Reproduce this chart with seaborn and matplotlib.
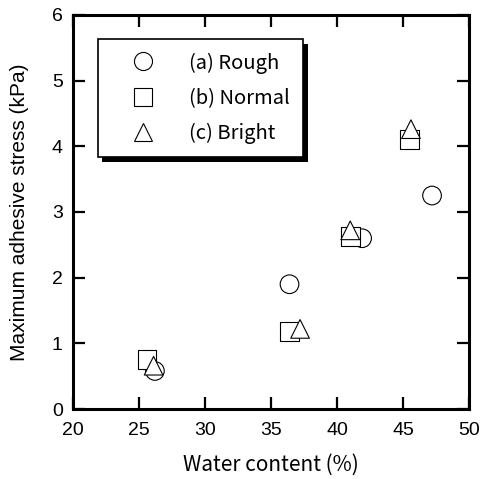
#Importaciones
import pandas as pd
import matplotlib
matplotlib.use("Agg")
import matplotlib.pyplot as plt
import matplotlib.patheffects as pe
import seaborn as sns

# data
surfaces = ["(a) Rough", "(b) Normal", "(c) Bright"]
rough_x = [26.2, 36.4, 41.9, 47.2]
rough_y = [0.58, 1.90, 2.60, 3.25]
normal_x = [25.6, 36.4, 41.0, 45.5]
normal_y = [0.75, 1.18, 2.63, 4.10]
bright_x = [26.1, 37.2, 41.0, 45.6]
bright_y = [0.66, 1.22, 2.72, 4.26]
marker_list = ["o", "s", "^"]

df = pd.DataFrame({
    "water": rough_x + normal_x + bright_x,
    "stress": rough_y + normal_y + bright_y,
    "surface": [surfaces[0]] * 4 + [surfaces[1]] * 4 + [surfaces[2]] * 4,
})

sns.set_style("ticks", {
    "axes.edgecolor": "black",
    "xtick.color": "black",
    "ytick.color": "black",
    "text.color": "black",
    "axes.labelcolor": "black",
})
plt.rcParams["font.family"] = ["Liberation Sans", "DejaVu Sans"]
jp = ["Noto Sans CJK JP", "DejaVu Sans"]

fig = plt.figure(figsize=(4.84, 4.79), dpi=100)
ax = fig.add_axes([0.151, 0.146, 0.818, 0.823])

sns.scatterplot(
    data=df,
    x="water",
    y="stress",
    style="surface",
    markers=dict(zip(surfaces, marker_list)),
    s=180,
    color="white",
    edgecolor="black",
    linewidth=0.8,
    ax=ax,
)

ax.set_xlim(20, 50)
ax.set_ylim(0, 6)
ax.set_xticks(range(20, 51, 5))
ax.set_yticks(range(0, 7))
ax.tick_params(direction="in", length=8.5, width=1.6, top=True, right=True,
               labelsize=14, colors="black")
ax.tick_params(axis="x", pad=9)
ax.tick_params(axis="y", pad=7.5)
for sp in ax.spines.values():
    sp.set_linewidth(2.2)
    sp.set_color("black")
    sp.set_visible(True)

ax.set_xlabel("Water content (%)", fontsize=15, family=jp, labelpad=11)
ax.set_ylabel("Maximum adhesive stress (kPa)", fontsize=15, labelpad=16)

handles, labels = ax.get_legend_handles_labels()
leg = ax.legend(
    handles, labels,
    loc="upper left",
    bbox_to_anchor=(0.062, 0.938),
    borderaxespad=0,
    frameon=True,
    fancybox=False,
    edgecolor="black",
    framealpha=1,
    prop={"family": jp, "size": 14.5},
    handlelength=3.2,
    handletextpad=0.7,
    borderpad=0.65,
    labelspacing=0.7,
)
leg.get_frame().set_linewidth(1.2)
leg.get_frame().set_path_effects([
    pe.SimplePatchShadow(offset=(3.5, -3.5), shadow_rgbFace="black", alpha=1),
    pe.Normal(),
])
for h in leg.legend_handles:
    if hasattr(h, "set_markerfacecolor"):
        h.set_markerfacecolor("white")
        h.set_markeredgecolor("black")
        h.set_markersize(13)
        h.set_markeredgewidth(0.8)
    else:
        h.set_facecolor("white")
        h.set_edgecolor("black")

fig.savefig("out.png", dpi=100)
